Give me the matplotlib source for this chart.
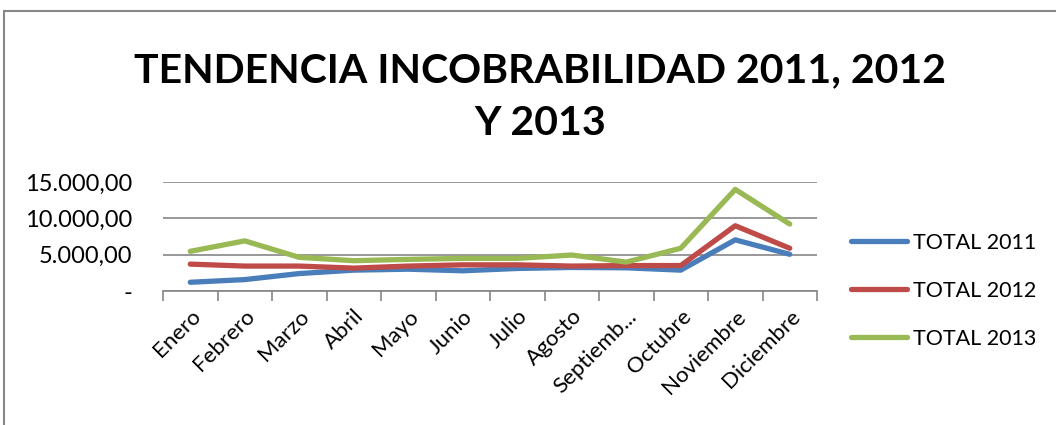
import numpy as np
import matplotlib.pyplot as plt
from matplotlib.patches import Rectangle
from matplotlib.ticker import FixedLocator, FuncFormatter

meses = ['Enero', 'Febrero', 'Marzo', 'Abril', 'Mayo', 'Junio', 'Julio',
         'Agosto', 'Septiemb...', 'Octubre', 'Noviembre', 'Diciembre']
total_2011 = [1200, 1570, 2400, 2870, 3000, 2780, 3100, 3240, 3190, 2870, 7040, 5050]
total_2012 = [3700, 3430, 3430, 3150, 3430, 3600, 3600, 3430, 3500, 3500, 8980, 5880]
total_2013 = [5460, 6900, 4630, 4170, 4350, 4490, 4490, 4950, 3980, 5880, 13980, 9210]
series = ['TOTAL 2011', 'TOTAL 2012', 'TOTAL 2013']
colores = ['#4A7EBB', '#BE4B48', '#98B954']

plt.rcParams['font.family'] = ['Lato', 'DejaVu Sans']

fig = plt.figure(figsize=(10.56, 4.25), dpi=100)
# marco gris del gráfico
fig.patches.append(Rectangle((4 / 1056, -0.1), 1.2, 1 - 11 / 425 + 0.1,
                             transform=fig.transFigure, fill=False,
                             edgecolor='#878787', linewidth=1.5))

ax = fig.add_axes([163 / 1056, 1 - 291 / 425, 654 / 1056, 109 / 425])
x = np.arange(len(meses))
for vals, nombre, c in zip([total_2011, total_2012, total_2013], series, colores):
    ax.plot(x, vals, color=c, linewidth=3.8, label=nombre, solid_capstyle='round')

ax.set_xlim(-0.5, len(meses) - 0.5)
ax.set_ylim(0, 15000)
ax.set_yticks([0, 5000, 10000, 15000])
ax.yaxis.set_major_formatter(FuncFormatter(
    lambda v, p: '-' if v == 0 else f'{v:,.2f}'.replace(',', 'X').replace('.', ',').replace('X', '.')))
ax.grid(axis='y', color='#868686', linewidth=1.2)
ax.set_axisbelow(True)
for s in ['top', 'right', 'left']:
    ax.spines[s].set_visible(False)
ax.spines['bottom'].set_color('#868686')
ax.spines['bottom'].set_linewidth(1.2)
ax.tick_params(axis='y', length=0, labelsize=17, pad=22)

ax.set_xticks(x)
ax.set_xticklabels(meses, rotation=45, ha='right', rotation_mode='anchor', fontsize=16)
ax.tick_params(axis='x', which='major', length=0, pad=11)
ax.xaxis.set_minor_locator(FixedLocator(np.arange(-0.5, len(meses), 1)))
ax.tick_params(axis='x', which='minor', length=7, color='#868686', width=1.2)

fig.text(540 / 1056, 1 - 97 / 425, 'TENDENCIA INCOBRABILIDAD 2011, 2012\nY 2013',
         ha='center', va='center', fontsize=29.5, fontweight='bold', linespacing=1.52)

ax.legend(loc='center left', bbox_to_anchor=((832 - 163) / 654, 0.0),
          bbox_transform=ax.transAxes, frameon=False, fontsize=15.5,
          handlelength=2.6, handletextpad=0.25, labelspacing=1.3)

fig.savefig('out.png', dpi=100)
